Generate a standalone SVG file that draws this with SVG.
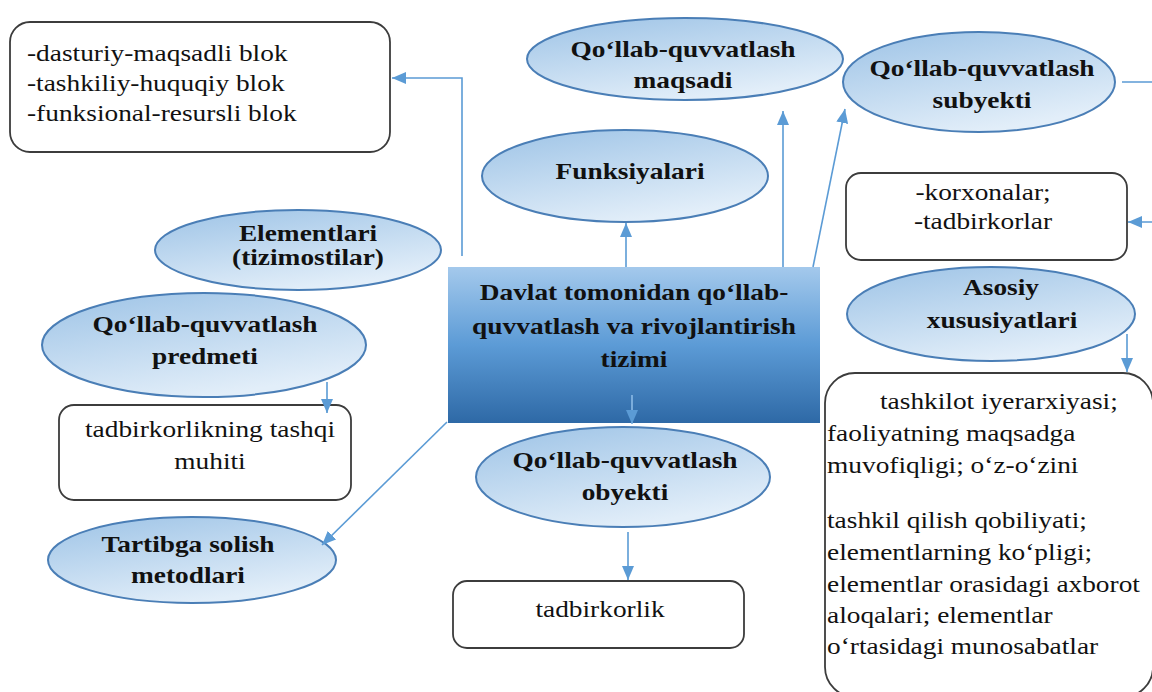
<svg xmlns="http://www.w3.org/2000/svg" width="1152" height="692" viewBox="0 0 1152 692">
<defs>
<linearGradient id="eg" x1="0" y1="0" x2="0.5" y2="1">
<stop offset="0" stop-color="#9DC3E6"/>
<stop offset="1" stop-color="#E2EEF9"/>
</linearGradient>
<linearGradient id="cg" x1="0" y1="0" x2="0" y2="1">
<stop offset="0" stop-color="#A4C9EC"/>
<stop offset="0.5" stop-color="#5C9BD6"/>
<stop offset="1" stop-color="#2E69A6"/>
</linearGradient>
<marker id="ah" viewBox="0 0 10 10" refX="10" refY="5" markerWidth="14" markerHeight="12" markerUnits="userSpaceOnUse" orient="auto" preserveAspectRatio="none">
<path d="M0,0 L10,5 L0,10 z" fill="#5B9BD5"/>
</marker>
</defs>
<style>
.ell{fill:url(#eg);stroke:#4A7EB6;stroke-width:2}
.box{fill:#fff;stroke:#3C3C3C;stroke-width:1.8}
.con{fill:none;stroke:#5B9BD5;stroke-width:1.6;marker-end:url(#ah)}
.b{font-family:"Liberation Serif","Times New Roman",serif;font-weight:bold;font-size:23px;fill:#111;text-anchor:middle}
.r{font-family:"Liberation Serif","Times New Roman",serif;font-size:23px;fill:#111}
.m{text-anchor:middle}
</style>
<rect width="1152" height="692" fill="#fff"/>

<g id="center">
<rect x="448" y="267" width="372" height="156" fill="url(#cg)"/>
<text class="b" transform="translate(634,300) scale(1.19,1)">Davlat tomonidan qo‘llab-</text>
<text class="b" transform="translate(634,334) scale(1.19,1)">quvvatlash va rivojlantirish</text>
<text class="b" transform="translate(634,367) scale(1.19,1)">tizimi</text>
</g>

<g id="bloklar">
<rect class="box" x="10" y="22" width="380" height="130" rx="20"/>
<text class="r" transform="translate(27,61) scale(1.19,1)">-dasturiy-maqsadli blok</text>
<text class="r" transform="translate(27,91) scale(1.19,1)">-tashkiliy-huquqiy blok</text>
<text class="r" transform="translate(27,121) scale(1.19,1)">-funksional-resursli blok</text>
</g>

<g id="maqsadi">
<ellipse class="ell" cx="685" cy="59" rx="158" ry="41"/>
<text class="b" transform="translate(683,57) scale(1.19,1)">Qo‘llab-quvvatlash</text>
<text class="b" transform="translate(683,88) scale(1.19,1)">maqsadi</text>
</g>

<g id="funksiyalari">
<ellipse class="ell" cx="625" cy="176" rx="143" ry="46"/>
<text class="b" transform="translate(630,179) scale(1.19,1)">Funksiyalari</text>
</g>

<g id="subyekti">
<ellipse class="ell" cx="979" cy="82" rx="136" ry="50"/>
<text class="b" transform="translate(982,76) scale(1.19,1)">Qo‘llab-quvvatlash</text>
<text class="b" transform="translate(982,108) scale(1.19,1)">subyekti</text>
</g>

<g id="korxonalar">
<rect class="box" x="846" y="173" width="281" height="87" rx="15"/>
<text class="r m" transform="translate(983,200) scale(1.19,1)">-korxonalar;</text>
<text class="r m" transform="translate(983,229) scale(1.19,1)">-tadbirkorlar</text>
</g>

<g id="asosiy">
<ellipse class="ell" cx="991" cy="314" rx="144" ry="47"/>
<text class="b" transform="translate(1001,295) scale(1.19,1)">Asosiy</text>
<text class="b" transform="translate(1002,328) scale(1.19,1)">xususiyatlari</text>
</g>

<g id="xususiyatlar">
<rect class="box" x="825" y="373" width="328" height="324" rx="30"/>
<text class="r" transform="translate(880,409) scale(1.19,1)">tashkilot iyerarxiyasi;</text>
<text class="r" transform="translate(827,441) scale(1.19,1)">faoliyatning maqsadga</text>
<text class="r" transform="translate(827,473) scale(1.19,1)">muvofiqligi; o‘z-o‘zini</text>
<text class="r" transform="translate(827,528) scale(1.19,1)">tashkil qilish qobiliyati;</text>
<text class="r" transform="translate(827,560) scale(1.19,1)">elementlarning ko‘pligi;</text>
<text class="r" transform="translate(827,592) scale(1.19,1)">elementlar orasidagi axborot</text>
<text class="r" transform="translate(827,623) scale(1.19,1)">aloqalari; elementlar</text>
<text class="r" transform="translate(827,654) scale(1.19,1)">o‘rtasidagi munosabatlar</text>
</g>

<g id="elementlari">
<ellipse class="ell" cx="298" cy="250" rx="143" ry="40"/>
<text class="b" transform="translate(308,241) scale(1.19,1)">Elementlari</text>
<text class="b" transform="translate(308,265) scale(1.19,1)">(tizimostilar)</text>
</g>

<g id="predmeti">
<ellipse class="ell" cx="204" cy="345" rx="162" ry="52"/>
<text class="b" transform="translate(205,332) scale(1.19,1)">Qo‘llab-quvvatlash</text>
<text class="b" transform="translate(205,364) scale(1.19,1)">predmeti</text>
</g>

<g id="tashqi-muhit">
<rect class="box" x="59" y="405" width="292" height="95" rx="15"/>
<text class="r m" transform="translate(210,437) scale(1.19,1)">tadbirkorlikning tashqi</text>
<text class="r m" transform="translate(210,469) scale(1.19,1)">muhiti</text>
</g>

<g id="tartibga">
<ellipse class="ell" cx="192" cy="560" rx="144" ry="43"/>
<text class="b" transform="translate(188,552) scale(1.19,1)">Tartibga solish</text>
<text class="b" transform="translate(188,583) scale(1.19,1)">metodlari</text>
</g>

<g id="obyekti">
<ellipse class="ell" cx="623" cy="477" rx="147" ry="50"/>
<text class="b" transform="translate(625,468) scale(1.19,1)">Qo‘llab-quvvatlash</text>
<text class="b" transform="translate(625,500) scale(1.19,1)">obyekti</text>
</g>

<g id="tadbirkorlik">
<rect class="box" x="453" y="581" width="291" height="67" rx="14"/>
<text class="r m" transform="translate(600,617) scale(1.19,1)">tadbirkorlik</text>
</g>

<g id="connectors">
<path class="con" d="M462,256 V78 H392"/>
<path class="con" d="M626,267 V223"/>
<path class="con" d="M783,267 V111"/>
<path class="con" d="M813,267 L845,109"/>
<path class="con" d="M1122,82 H1165 V222 H1128"/>
<path class="con" d="M1127,334 V372"/>
<path class="con" d="M327,382 V413"/>
<path class="con" d="M447,422 L322,545"/>
<path class="con" d="M632,395 V424" style="stroke:#8CBBE6"/>
<path class="con" d="M628,532 V580"/>
</g>
</svg>
